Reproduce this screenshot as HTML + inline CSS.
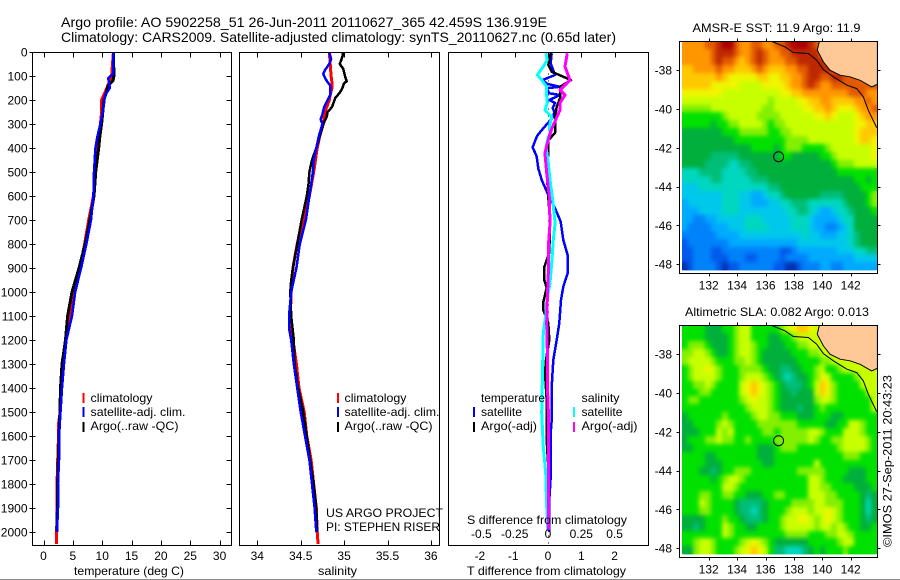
<!DOCTYPE html>
<html>
<head>
<meta charset="utf-8">
<title>Argo profile</title>
<style>
html,body{margin:0;padding:0;background:#fff;}
svg{display:block;font-family:"Liberation Sans",sans-serif;font-size:12px;fill:#000;}
</style>
</head>
<body>
<svg id="chart" xmlns="http://www.w3.org/2000/svg" width="900" height="580" viewBox="0 0 900 580">
<rect x="0" y="0" width="900" height="580" fill="#fff"/>
<rect x="0" y="579" width="900" height="1" fill="#888"/>
<defs>
<clipPath id="clip-map1"><rect x="680" y="42" width="197" height="231"/></clipPath>
<clipPath id="clip-map2"><rect x="680" y="326" width="197" height="231"/></clipPath>
<clipPath id="clip-cells1"><rect x="682" y="42" width="195" height="229"/></clipPath>
<clipPath id="clip-cells2"><rect x="682" y="326" width="195" height="229"/></clipPath>
<filter id="soften" x="-5%" y="-5%" width="110%" height="110%" color-interpolation-filters="sRGB"><feGaussianBlur stdDeviation="2.2"/></filter>
</defs>
<g id="layer-profiles"></g>
<g id="layer-maps"></g>
<text x="61" y="27" font-size="14" textLength="486" lengthAdjust="spacingAndGlyphs">Argo profile: AO 5902258_51 26-Jun-2011 20110627_365 42.459S 136.919E</text>
<text x="61" y="42" font-size="14" textLength="555" lengthAdjust="spacingAndGlyphs">Climatology: CARS2009. Satellite-adjusted climatology: synTS_20110627.nc (0.65d later)</text>
<text x="74" y="575" textLength="110" lengthAdjust="spacingAndGlyphs">temperature (deg C)</text>
<text x="318" y="575" textLength="39" lengthAdjust="spacingAndGlyphs">salinity</text>
<text x="467" y="575" textLength="159" lengthAdjust="spacingAndGlyphs">T difference from climatology</text>
<text x="467" y="524" textLength="160" lengthAdjust="spacingAndGlyphs">S difference from climatology</text>

<g>
<rect x="82.5" y="393" width="2" height="10" fill="#f00"/>
<rect x="82.5" y="407" width="2" height="10" fill="#00f"/>
<rect x="82.5" y="422" width="2" height="10" fill="#000"/>
<text x="90.5" y="402" textLength="62" lengthAdjust="spacingAndGlyphs">climatology</text>
<text x="90.5" y="416" textLength="95" lengthAdjust="spacingAndGlyphs">satellite-adj. clim.</text>
<text x="90.5" y="430" textLength="88" lengthAdjust="spacingAndGlyphs">Argo(..raw -QC)</text>
</g>
<g>
<rect x="337" y="393" width="2" height="10" fill="#f00"/>
<rect x="337" y="407" width="2" height="10" fill="#00f"/>
<rect x="337" y="422" width="2" height="10" fill="#000"/>
<text x="344.5" y="402" textLength="62" lengthAdjust="spacingAndGlyphs">climatology</text>
<text x="344.5" y="416" textLength="95" lengthAdjust="spacingAndGlyphs">satellite-adj. clim.</text>
<text x="344.5" y="430" textLength="88" lengthAdjust="spacingAndGlyphs">Argo(..raw -QC)</text>
</g>
<text x="326" y="517" textLength="117" lengthAdjust="spacingAndGlyphs">US ARGO PROJECT</text>
<text x="326" y="531" textLength="114" lengthAdjust="spacingAndGlyphs">PI: STEPHEN RISER</text>
<g>
<rect x="473" y="407" width="2" height="10" fill="#00f"/>
<rect x="473" y="422" width="2" height="10" fill="#000"/>
<rect x="573" y="407" width="2" height="10" fill="#0ff"/>
<rect x="573" y="422" width="2" height="10" fill="#f0f"/>
<text x="481" y="402" textLength="64" lengthAdjust="spacingAndGlyphs">temperature</text>
<text x="481" y="416" textLength="41" lengthAdjust="spacingAndGlyphs">satellite</text>
<text x="481" y="430" textLength="56" lengthAdjust="spacingAndGlyphs">Argo(-adj)</text>
<text x="581.5" y="402" textLength="38" lengthAdjust="spacingAndGlyphs">salinity</text>
<text x="581.5" y="416" textLength="41" lengthAdjust="spacingAndGlyphs">satellite</text>
<text x="581.5" y="430" textLength="56" lengthAdjust="spacingAndGlyphs">Argo(-adj)</text>
</g>
<text x="692.5" y="32" textLength="168" lengthAdjust="spacingAndGlyphs">AMSR-E SST: 11.9 Argo: 11.9</text>
<text x="685" y="316" textLength="184" lengthAdjust="spacingAndGlyphs">Altimetric SLA: 0.082 Argo: 0.013</text>
<text transform="translate(891.5,547) rotate(-90)" textLength="172" lengthAdjust="spacingAndGlyphs">©IMOS 27-Sep-2011 20:43:23</text>
</svg>
<script>
// ---- profile data ----
const depthTicks = [0,100,200,300,400,500,600,700,800,900,1000,1100,1200,1300,1400,1500,1600,1700,1800,1900,2000];
const tempTicks = [0,5,10,15,20,25,30];
const salTicks = [34,34.5,35,35.5,36];
const tDiffTicks = [-2,-1,0,1,2];
const sDiffTicks = [-0.5,-0.25,0,0.25,0.5];

const tempClimDepth = [0,100,150,200,250,300,400,500,600,700,800,900,1000,1100,1200,1300,1400,1500,1550,1600,1750,2000,2050];
const tempClim = [11.9,11.6,10.8,9.9,9.9,9.7,9.2,8.9,8.5,7.7,7,6.2,5.3,4.6,3.8,3.4,3.1,2.85,2.55,2.55,2.35,2.25,2.25];
const tempSatDepth = [0,90,110,125,150,180,250,300,350,400,500,600,700,800,900,1000,1100,1200,1300,1400,1500,1600,1700,1800,1900,2000];
const tempSat = [11.9,11.9,11,11.15,11.3,10.5,10.1,9.7,9.2,8.85,8.6,8.5,8.1,7.3,6.4,5.4,4.85,3.9,3.5,3.15,2.9,2.64,2.64,2.47,2.47,2.3];
const tempArgoDepth = [0,100,120,140,160,200,300,350,400,500,600,700,800,900,1000,1100,1200,1300,1400,1500,1600,1800,2000];
const tempArgo = [11.92,12,11.84,10.99,10.8,10.3,9.9,9.6,9.4,8.9,8.6,7.9,7.1,6.05,4.86,4.1,3.75,3.15,2.9,2.8,2.64,2.4,2.3];

const salClimDepth = [0,50,100,125,150,180,200,250,300,350,400,500,600,700,800,900,1000,1100,1150,1300,1400,1500,1600,1700,1800,1900,2000,2050];
const salClim = [34.83,34.84,34.85,34.86,34.86,34.84,34.83,34.78,34.76,34.72,34.69,34.65,34.6,34.53,34.46,34.41,34.39,34.38,34.39,34.45,34.48,34.54,34.57,34.62,34.65,34.68,34.69,34.7];
const salSatDepth = [0,30,50,75,90,100,120,140,180,200,230,260,280,290,300,350,400,450,500,600,700,800,900,1000,1100,1150,1200,1300,1400,1500,1600,1700,1800,1900,2000];
const salSat = [34.83,34.85,34.83,34.78,34.76,34.77,34.8,34.84,34.84,34.81,34.77,34.75,34.73,34.74,34.75,34.71,34.68,34.65,34.64,34.6,34.56,34.49,34.45,34.39,34.365,34.365,34.39,34.42,34.46,34.5,34.55,34.6,34.63,34.66,34.68];
const salArgoDepth = [0,20,50,70,100,122,130,150,170,190,210,230,250,270,300,350,400,450,500,550,600,700,800,900,950,1000,1100,1200,1300,1400,1500,1600,1700,1800,1900,2000];
const salArgo = [34.99,34.98,34.95,34.99,35.01,35.03,35,34.98,34.95,34.9,34.88,34.86,34.81,34.8,34.76,34.72,34.68,34.63,34.6,34.59,34.57,34.51,34.46,34.41,34.39,34.38,34.39,34.42,34.43,34.47,34.53,34.57,34.61,34.65,34.68,34.69];

const tDiffSatDepth = [5,47,96,117,133,145,151,172,179,200,212,233,249,270,318,343,353,397,436,485,533,596,651,707,783,846,922,978,1033,1129,1200,1283,1395,1533,1588,1771,1867,1999];
const tDiffSat = [0.11,0.08,0.21,-0.17,-0.02,0.36,-0.04,0.04,0.36,0.04,0.21,0.14,0.19,0.16,-0.14,-0.29,-0.34,-0.46,-0.34,-0.29,-0.19,0.01,0.21,0.38,0.46,0.59,0.59,0.46,0.39,0.34,0.26,0.16,0.11,0.11,0.08,0.08,0.04,0.04];
const tDiffArgoDepth = [5,54,82,117,145,192,228,275,338,367,421,504,604,700,838,867,896,950,983,1042,1075,1129,1200,1283,1338,1450,1617,1729,1992];
const tDiffArgo = [0.08,0.01,0.11,0.69,0.36,0.36,0.26,0.21,0.21,0.01,0.01,-0.04,0.01,0.06,0.04,-0.04,-0.11,-0.11,-0.04,-0.14,-0.14,0.01,0.04,-0.06,-0.09,-0.04,-0.04,0.01,0.01];
const sDiffSatDepth = [5,33,61,96,117,145,186,212,242,270,311,339,353,395,463,533,617,713,783,879,963,1046,1088,1171,1379,1504,1646,1754,1896,1992];
const sDiffSat = [-0.015,-0.005,-0.035,-0.08,-0.047,-0.01,-0.01,-0.005,-0.023,0.028,0.01,0.02,0.002,-0.015,0.002,0.015,0.035,0.053,0.04,0.028,0.015,-0.01,-0.015,-0.035,-0.043,-0.047,-0.035,-0.017,-0.01,-0.002];
const sDiffArgoDepth = [5,61,117,158,179,212,242,304,339,421,504,604,713,813,921,1033,1129,1242,1379,1492,1729,1992];
const sDiffArgo = [0.145,0.128,0.165,0.09,0.128,0.09,0.09,0.04,0.015,-0.023,-0.01,0.01,0.015,0.002,0.002,-0.005,-0.01,-0.005,-0.005,0.002,0.002,0.002];

// ---- map data ----
const lonTicks = [132,134,136,138,140,142];
const latTicks = [38,40,42,44,46,48];
const argoLon = 136.919;
const argoLat = 42.459;
const landLon = [139.79,139.65,140.08,140.54,141.25,141.95,142.66,143.48,143.88,143.88];
const landLat = [36.52,36.97,37.57,38.0,38.26,38.34,38.52,38.86,38.72,36.52];
const shelfLon = [136.44,137.38,137.96,139.02,139.6,140.08,140.78,141.72,142.42,142.89,143.24,143.83];
const shelfLat = [36.52,36.8,37.09,37.14,37.48,37.97,38.34,38.77,38.95,39.37,40.06,40.96];

// colour-scale level of each grid cell (0 = coldest/lowest, 16 = warmest/highest)
const sstGrid = [
[13,13,13,13,14,14,15,16,16,14,13,13,14,14,13,13,14,14,15,16,16,16,15,14,12,13,13,13,13,13,13,13,13,13],
[13,13,13,13,13,14,15,15,15,14,13,13,14,15,14,13,13,14,14,15,15,15,15,15,12,13,13,13,13,13,13,13,13,13],
[13,13,13,13,13,14,15,14,14,13,12,13,14,15,14,13,13,13,14,14,15,15,15,15,15,14,13,13,13,13,13,13,13,13],
[12,12,13,13,13,13,14,13,13,12,12,12,13,14,13,12,12,12,13,13,14,14,15,15,15,15,14,13,13,13,13,13,13,13],
[12,12,12,12,12,12,13,12,11,11,11,11,11,12,12,11,11,12,12,13,13,14,15,15,14,14,15,15,14,14,14,13,13,13],
[12,12,12,12,12,11,11,11,11,11,10,10,10,10,11,11,11,11,12,13,13,14,15,14,13,13,14,14,14,14,14,14,14,14],
[11,11,11,11,11,11,11,10,10,10,10,10,10,10,10,10,10,11,11,12,12,13,13,13,13,13,13,13,13,14,14,14,13,13],
[10,10,10,10,10,10,10,10,10,10,10,10,10,10,10,9,10,10,10,10,11,11,12,12,13,13,12,12,12,12,13,13,14,13],
[9,9,9,9,9,10,10,10,10,10,10,10,10,10,9,9,10,10,10,10,10,11,11,12,12,13,12,11,11,11,12,13,13,14],
[8,8,8,8,8,8,8,9,10,10,10,10,10,9,9,9,9,10,10,10,10,10,10,11,11,12,11,10,10,10,11,12,13,13],
[8,8,8,8,8,7,8,8,9,9,10,10,10,10,9,8,9,9,10,10,10,10,10,10,10,10,10,10,10,10,11,11,12,12],
[7,7,7,7,7,7,7,8,8,8,9,9,9,9,9,8,8,9,9,10,10,10,10,10,10,10,10,10,10,10,11,12,12,12],
[7,7,7,7,7,7,7,7,7,8,8,8,8,8,8,8,8,8,9,9,9,9,10,10,10,10,10,10,10,10,11,12,12,11],
[7,7,7,7,7,7,7,7,7,7,7,7,8,8,8,8,7,8,9,9,9,8,8,8,8,9,10,10,10,10,10,10,10,11],
[7,7,7,7,7,6,6,6,6,6,7,7,7,7,7,7,7,8,8,7,7,7,7,7,8,8,9,10,10,10,10,10,10,11],
[7,7,7,7,6,6,6,6,5,5,6,6,7,7,7,7,7,7,7,7,7,7,7,7,7,7,8,9,9,9,10,10,10,10],
[5,5,5,6,6,6,6,5,5,5,5,6,6,7,7,7,7,7,7,7,7,7,7,7,7,7,7,8,8,8,8,8,8,8],
[5,5,5,5,5,6,6,5,5,5,5,5,6,6,6,7,7,7,7,7,7,7,7,7,7,7,7,7,7,7,8,8,7,8],
[4,4,4,5,5,5,5,5,5,5,5,5,5,5,5,6,6,7,7,7,7,7,7,7,7,7,7,7,7,7,7,8,8,8],
[4,4,4,4,4,4,4,5,5,5,4,4,3,3,4,5,5,6,7,7,7,7,7,7,6,6,6,6,7,7,7,7,8,9],
[3,4,4,4,4,4,4,5,5,5,4,4,3,3,3,4,4,5,5,6,6,6,5,5,5,5,5,5,6,7,7,7,8,9],
[3,3,3,4,4,4,4,5,5,5,4,4,4,4,4,4,4,4,5,5,6,6,5,4,3,3,4,5,5,6,7,7,7,8],
[3,3,2,2,3,3,4,4,4,4,4,5,5,5,4,4,4,4,4,5,5,5,4,3,3,3,3,4,5,5,7,7,7,7],
[3,2,2,2,2,3,3,3,4,4,4,5,5,5,5,4,4,4,4,5,5,5,4,3,3,2,2,3,4,5,7,7,7,7],
[2,2,2,2,2,2,3,3,3,3,4,4,4,4,4,4,4,4,4,4,4,5,4,4,3,3,3,4,4,5,6,7,7,7],
[1,2,2,2,2,2,2,2,3,3,3,3,3,3,3,3,3,3,3,3,4,4,4,4,4,4,4,4,4,5,6,7,7,7],
[1,1,2,2,2,1,1,2,2,2,2,2,2,2,2,2,2,1,1,2,3,3,3,3,3,3,3,4,4,4,5,5,6,6],
[1,1,2,2,2,1,1,1,2,2,2,1,1,2,2,2,2,1,2,2,2,2,3,3,3,3,3,3,3,3,4,4,4,4],
[0,1,2,2,2,2,1,0,1,1,2,2,2,2,2,2,1,1,0,0,1,2,2,2,3,3,2,2,3,3,3,3,3,3]
];
const slaGrid = [
[8,8,8,8,7,7,7,8,8,9,10,10,8,8,8,8,8,9,10,11,12,12,11,10,10,10,10,10,10,10,10,10,10,10],
[8,8,8,8,7,7,7,7,8,9,10,10,8,8,8,7,7,8,8,9,10,10,10,10,10,10,10,10,10,10,10,10,10,10],
[8,9,9,9,8,7,7,7,8,9,10,10,9,8,8,7,7,7,8,8,9,9,10,10,10,10,10,10,10,10,10,10,10,10],
[9,9,10,10,9,8,7,7,8,9,10,10,9,8,7,7,7,7,7,8,8,8,9,9,10,10,10,10,10,10,10,10,10,10],
[9,10,10,10,10,9,8,8,8,9,9,10,9,8,7,7,7,7,7,7,8,8,8,8,9,9,10,10,10,10,10,10,10,10],
[8,9,10,10,11,10,9,8,8,8,9,9,9,9,8,7,7,6,6,7,7,8,8,9,10,8,8,9,10,10,10,10,10,10],
[8,9,10,10,10,10,9,8,8,8,9,10,10,10,9,8,7,6,5,6,7,7,8,9,11,10,8,8,8,8,9,10,10,10],
[8,8,9,9,10,9,8,8,8,8,10,11,12,11,10,9,8,7,6,6,6,7,8,10,12,11,9,8,8,8,8,10,10,10],
[8,8,8,9,9,8,8,8,8,8,10,11,12,11,10,9,8,7,7,6,7,7,7,10,12,11,9,8,8,8,8,8,10,10],
[8,9,9,8,8,8,8,8,8,8,9,10,11,10,10,9,8,7,7,7,7,7,7,9,10,10,9,8,8,8,8,8,8,10],
[8,8,8,8,8,8,8,8,8,8,8,9,10,10,10,9,8,7,7,7,6,7,7,8,9,8,8,8,8,8,8,8,8,10],
[7,8,8,8,8,8,8,9,8,8,8,8,9,10,10,9,9,8,8,8,7,7,7,8,8,8,7,7,8,8,8,8,8,8],
[7,7,8,8,8,8,9,10,9,8,8,8,8,9,9,9,9,9,9,9,8,8,8,8,8,7,7,8,8,10,10,9,8,8],
[7,7,7,8,8,8,10,9,10,8,8,8,8,8,9,9,8,9,9,9,9,9,10,10,9,8,8,8,10,10,10,9,8,8],
[7,8,8,8,9,9,10,9,9,8,8,9,8,8,8,8,9,9,9,9,9,9,10,9,8,8,9,9,10,10,10,10,9,8],
[7,7,8,8,8,8,8,8,8,8,8,8,8,7,7,7,8,9,9,9,8,8,8,8,8,8,8,9,10,10,10,10,9,8],
[8,8,8,8,7,7,8,8,8,8,8,8,8,7,7,7,8,8,8,8,8,8,8,8,8,8,8,8,9,9,9,8,8,8],
[8,8,8,8,7,7,7,8,8,8,8,8,8,8,7,7,8,8,8,8,8,8,8,10,8,8,8,8,8,8,8,8,8,8],
[8,8,8,7,7,6,7,8,8,9,9,9,8,8,8,8,8,8,8,8,9,9,9,9,9,8,8,8,8,7,7,7,8,8],
[8,8,8,8,8,7,8,9,10,10,9,8,8,8,8,8,8,8,8,8,8,8,10,10,9,8,8,8,7,7,7,7,8,8],
[8,8,8,8,8,8,8,10,10,9,8,8,8,8,8,8,8,8,8,8,8,8,10,10,9,9,8,8,8,8,7,7,7,8],
[8,8,8,9,9,8,8,9,9,8,8,7,7,7,8,8,9,9,8,8,8,8,10,10,10,9,9,8,8,8,8,7,6,7],
[8,8,8,10,9,8,8,8,8,7,6,6,6,6,7,8,8,8,8,9,9,9,9,10,10,9,9,9,8,8,8,7,5,7],
[8,8,8,9,9,8,8,8,8,7,6,6,5,6,7,8,8,8,9,10,10,10,9,10,10,11,10,9,8,8,8,7,5,7],
[7,7,7,7,8,8,8,9,8,8,7,6,6,6,7,8,8,9,10,10,11,11,10,9,10,11,10,9,8,8,8,7,6,7],
[7,7,6,7,8,8,8,10,9,8,8,7,7,8,8,8,8,9,10,10,10,10,10,9,10,10,9,10,9,8,8,7,7,8],
[8,8,8,8,8,8,8,10,9,8,8,8,8,8,8,8,8,8,9,9,9,9,8,8,8,9,9,10,10,9,8,8,8,8],
[8,8,9,10,10,9,8,8,8,8,9,10,11,10,9,8,7,7,7,7,7,7,8,8,8,8,8,9,10,10,8,8,8,8],
[7,7,9,10,10,9,8,8,8,9,10,11,12,11,10,8,6,6,5,5,5,6,7,8,7,8,8,8,9,8,8,8,8,8]
];

// ---- axes ----
const depthY = d => 52 + d * 0.24;
const tempX = t => 43.5 + t * 5.87;
const salX = s => 257.3 + (s - 34) * 86.8;
const tDiffX = t => 548 + t * 33.3;
const sDiffX = s => 548 + s * 133.2;
const mapX = lon => 708.7 + (lon - 132) * 14.2;
const mapY = (lat, top) => top + 28.7 + (lat - 38) * 19.4;

const SVGNS = 'http://www.w3.org/2000/svg';
const profiles = document.getElementById('layer-profiles');
const maps = document.getElementById('layer-maps');

function make(tag, parent, attrs, text) {
  const e = document.createElementNS(SVGNS, tag);
  for (const k in attrs) e.setAttribute(k, attrs[k]);
  if (text !== undefined) e.textContent = text;
  parent.appendChild(e);
  return e;
}
function tickLine(parent, x1, y1, x2, y2) {
  const t = make('line', parent, {x1: x1, y1: y1, x2: x2, y2: y2, stroke: '#000', 'stroke-width': 1, 'shape-rendering': 'crispEdges'});
  
  
  return t;
}
function tickText(parent, x, y, anchor, str) {
  const t = make('text', parent, {x: x, y: y, 'text-anchor': anchor}, str);
  
  
  return t;
}
function frame(parent, x0, y0, x1, y1) {
  const r = make('rect', parent, {x: x0, y: y0, width: x1 - x0, height: y1 - y0, fill: 'none', stroke: '#000', 'stroke-width': 1, 'shape-rendering': 'crispEdges'});
  
  
  return r;
}
function curve(parent, xFn, values, depths, color, width) {
  const pts = values.map((v, i) => xFn(v).toFixed(1) + ',' + depthY(depths[i]).toFixed(1)).join(' ');
  const p = make('polyline', parent, {points: pts, fill: 'none', stroke: color, 'stroke-width': width, 'shape-rendering': 'crispEdges', 'stroke-linejoin': 'round'});
  return p;
}

const TOP = 52.5, BOT = 545.5;
// temperature panel
const g1 = make('g', profiles, {});


const c1 = curve(g1, tempX, tempClim, tempClimDepth, '#f00', 3);


const c2 = curve(g1, tempX, tempArgo, tempArgoDepth, '#000', 3);


const c3 = curve(g1, tempX, tempSat, tempSatDepth, '#00f', 2.5);


frame(g1, 32.5, TOP, 231.5, BOT);
tempTicks.forEach(t => {
  const x = Math.round(tempX(t)) + 0.5;
  tickLine(g1, x, TOP, x, TOP + 5);
  tickLine(g1, x, BOT, x, BOT - 5);
  tickText(g1, tempX(t), 560, 'middle', String(t));
});
depthTicks.forEach(d => {
  const y = Math.round(depthY(d)) + 0.5;
  tickLine(g1, 29.5, y, 35.5, y);
  tickLine(g1, 231.5, y, 226.5, y);
  tickText(g1, 27.5, depthY(d) + 4.5, 'end', String(d));
});

// salinity panel
const g2 = make('g', profiles, {});


const s1 = curve(g2, salX, salClim, salClimDepth, '#f00', 3);


const s2 = curve(g2, salX, salArgo, salArgoDepth, '#000', 2.5);


const s3 = curve(g2, salX, salSat, salSatDepth, '#00f', 2.5);


frame(g2, 239.5, TOP, 439.5, BOT);
salTicks.forEach(s => {
  const x = Math.round(salX(s)) + 0.5;
  tickLine(g2, x, TOP, x, TOP + 5);
  tickLine(g2, x, BOT, x, BOT - 5);
  tickText(g2, salX(s), 560, 'middle', String(s));
});

// difference panel
const g3 = make('g', profiles, {});


const zero = make('line', g3, {x1: tDiffX(0) + 0.5, y1: TOP, x2: tDiffX(0) + 0.5, y2: BOT, stroke: '#000', 'stroke-width': 1, 'stroke-dasharray': '1 6', 'shape-rendering': 'crispEdges'});


const d1 = curve(g3, tDiffX, tDiffSat, tDiffSatDepth, '#00f', 2.5);


const d2 = curve(g3, tDiffX, tDiffArgo, tDiffArgoDepth, '#000', 2.5);


const d3 = curve(g3, sDiffX, sDiffSat, sDiffSatDepth, '#0ff', 3);


const d4 = curve(g3, sDiffX, sDiffArgo, sDiffArgoDepth, '#f0f', 3);


frame(g3, 448.5, TOP, 648.5, BOT);
tDiffTicks.forEach(t => {
  const x = Math.round(tDiffX(t)) + 0.5;
  tickLine(g3, x, TOP, x, TOP + 5);
  tickText(g3, tDiffX(t) - (t < 0 ? 1.5 : 0), 560, 'middle', String(t));
});
sDiffTicks.forEach(s => {
  tickText(g3, sDiffX(s), 538, 'middle', String(s));
});

// colour scale
function levelColor(v) {
  const stops = ['#0032b4','#005aeb','#0082fa','#00aaff','#00c8eb','#00d7be','#00be78','#00af3c','#00e100','#82f000','#c8ff00','#f0f500','#ffc800','#ff9600','#e15a00','#be2800','#aa0000'];
  return stops[Math.max(0, Math.min(16, Math.round(v)))];
}

function drawMap(grid, top, clipId, cellClipId, name) {
  const g = make('g', maps, {});
  
  
  const lonStart = 130.12, latStart = 36.52 , lonStep = 0.4039, latStep = 0.4065;
  const gridTop = mapY(latStart, top);
  const cellClip = make('g', g, {'clip-path': 'url(#' + cellClipId + ')'});
  const cells = make('g', cellClip, {id: name + '-cells'});
  
  
  grid.forEach((row, r) => {
    row.forEach((v, c) => {
      const x0 = mapX(lonStart + c * lonStep);
      const x1 = mapX(lonStart + (c + 1) * lonStep);
      const y0 = gridTop + r * latStep * 19.4;
      const y1 = gridTop + (r + 1) * latStep * 19.4;
      const cell = make('rect', cells, {x: Math.round(x0), y: Math.round(y0), width: Math.round(x1) - Math.round(x0), height: Math.round(y1) - Math.round(y0), fill: levelColor(v), 'shape-rendering': 'crispEdges'});
      
      
    });
  });
  const soft = make('use', cellClip, {href: '#' + name + '-cells', filter: 'url(#soften)'});
  
  
  const clip = make('g', g, {'clip-path': 'url(#' + clipId + ')'});
  const land = make('polygon', clip, {points: landLon.map((l, i) => mapX(l).toFixed(1) + ',' + mapY(landLat[i], top).toFixed(1)).join(' '), fill: '#ffc896', stroke: '#000', 'stroke-width': 1});
  
  
  const shelf = make('polyline', clip, {points: shelfLon.map((l, i) => mapX(l).toFixed(1) + ',' + mapY(shelfLat[i], top).toFixed(1)).join(' '), fill: 'none', stroke: '#000', 'stroke-width': 1});
  
  
  const marker = make('circle', g, {cx: mapX(argoLon), cy: mapY(argoLat, top), r: 5, fill: 'none', stroke: '#000', 'stroke-width': 1});
  
  
  const L = 679.5, R = 877.5, B = top + 232;
  frame(g, L, top, R, B);
  lonTicks.forEach(l => {
    const x = Math.round(mapX(l)) + 0.5;
    tickLine(g, x, top - 3, x, top);
    tickLine(g, x, B, x, B + 3);
    tickText(g, mapX(l), B + 16, 'middle', String(l));
  });
  latTicks.forEach(l => {
    const y = Math.round(mapY(l, top)) + 0.5;
    tickLine(g, L - 3, y, L, y);
    tickLine(g, R, y, R + 3, y);
    tickText(g, 672, mapY(l, top) + 4.5, 'end', '-' + l);
  });
}
drawMap(sstGrid, 41.5, 'clip-map1', 'clip-cells1', 'sst-map');
drawMap(slaGrid, 325.5, 'clip-map2', 'clip-cells2', 'sla-map');
</script>
</body>
</html>
